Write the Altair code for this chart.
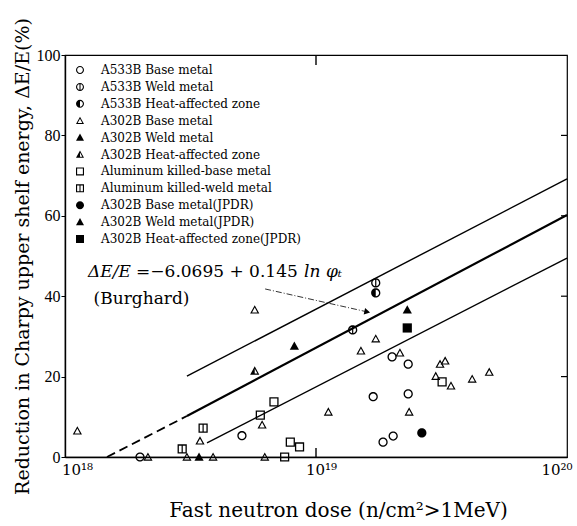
import altair as alt
import pandas as pd

# ---------------- data ----------------
series_names = [
    "A533B Base metal", "A533B Weld metal", "A533B Heat-affected zone",
    "A302B Base metal", "A302B Weld metal", "A302B Heat-affected zone",
    "Aluminum killed-base metal", "Aluminum killed-weld metal",
    "A302B Base metal(JPDR)", "A302B Weld metal(JPDR)", "A302B Heat-affected zone(JPDR)",
]

a533_base_x = [1.99e18, 5.07e18, 1.69e19, 2.01e19, 2.33e19, 2.33e19, 1.85e19, 2.03e19]
a533_base_y = [0.0, 5.3, 15.0, 24.9, 23.1, 15.7, 3.7, 5.2]
a533_weld_x = [1.73e19, 1.40e19]
a533_weld_y = [43.3, 31.6]
a533_haz_x = [1.73e19]
a533_haz_y = [40.8]
a302_base_x = [1.12e18, 5.7e18, 2.14e18, 3.06e18, 3.89e18, 6.25e18, 3.45e18, 6.1e18,
               1.73e19, 1.51e19, 2.16e19, 3.12e19, 3.27e19, 3.0e19, 3.45e19, 4.19e19,
               4.9e19, 1.12e19, 2.35e19]
a302_base_y = [6.5, 36.6, 0.0, 0.0, 0.0, 0.0, 4.0, 8.0,
               29.4, 26.4, 25.9, 23.1, 23.9, 20.1, 17.7, 19.4,
               21.1, 11.2, 11.2]
a302_weld_x = [8.2e18, 3.42e18]
a302_weld_y = [27.6, 0.0]
a302_haz_x = [5.7e18]
a302_haz_y = [21.4]
al_base_x = [6.8e18, 6.0e18, 7.9e18, 8.6e18, 7.5e18, 3.18e19]
al_base_y = [13.7, 10.4, 3.7, 2.5, 0.0, 18.7]
al_weld_x = [3.55e18, 2.93e18]
al_weld_y = [7.2, 2.0]
jpdr_base_x = [2.64e19]
jpdr_base_y = [6.0]
jpdr_weld_x = [2.31e19]
jpdr_weld_y = [36.6]
jpdr_haz_x = [2.31e19]
jpdr_haz_y = [32.1]

# regression band lines
center_solid_x = [3.06e18, 1e20]
center_solid_y = [10.2, 60.2]
center_dash_x = [1.47e18, 3.06e18]
center_dash_y = [0.0, 10.2]
upper_x = [3.06e18, 1e20]
upper_y = [20.1, 69.2]
lower_x = [3.68e18, 1e20]
lower_y = [3.5, 49.5]

# annotation
eq_x = [1.236e18]
eq_y = [46.0]
burg_x = [1.30e18]
burg_y = [39.4]
leader_x = [6.27e18, 1.6e19]
leader_y = [41.8, 36.1]

x_ticks = [1e18, 1e19, 1e20]
y_ticks = [0, 20, 40, 60, 80, 100]
right_ticks = [20, 40, 60, 80]
top_ticks = [1e19]

# ---------------- symbol shapes (filled paths) ----------------
RING = "M1,0A1,1,0,1,1,-1,0A1,1,0,1,1,1,0Z M0.72,0A0.72,0.72,0,1,0,-0.72,0A0.72,0.72,0,1,0,0.72,0Z"
VBAR = "M-0.13,-0.76L0.13,-0.76L0.13,0.76L-0.13,0.76Z"
HALF = "M0,-0.72A0.72,0.72,0,0,0,0,0.72Z"
DISK = "M1,0A1,1,0,1,1,-1,0A1,1,0,1,1,1,0Z"
TRI_OUT = "M0,-1L1,0.8L-1,0.8Z"
TRI_IN = "M0,-0.49L-0.58,0.55L0.58,0.55Z"
TRI_HALF = "M0,-0.49L-0.58,0.55L0,0.55Z"
SQ_OUT = "M-1,-1L1,-1L1,1L-1,1Z"
SQ_IN = "M-0.72,-0.72L-0.72,0.72L0.72,0.72L0.72,-0.72Z"

shape_range = [
    RING,
    RING + " " + VBAR,
    RING + " " + HALF,
    TRI_OUT + " " + TRI_IN,
    TRI_OUT,
    TRI_OUT + " " + TRI_IN + " " + TRI_HALF,
    SQ_OUT + " " + SQ_IN,
    SQ_OUT + " " + SQ_IN + " " + VBAR,
    DISK,
    TRI_OUT,
    SQ_OUT,
]

series_xy = [
    (a533_base_x, a533_base_y), (a533_weld_x, a533_weld_y), (a533_haz_x, a533_haz_y),
    (a302_base_x, a302_base_y), (a302_weld_x, a302_weld_y), (a302_haz_x, a302_haz_y),
    (al_base_x, al_base_y), (al_weld_x, al_weld_y),
    (jpdr_base_x, jpdr_base_y), (jpdr_weld_x, jpdr_weld_y), (jpdr_haz_x, jpdr_haz_y),
]
rows = []
for name, (xs, ys) in zip(series_names, series_xy):
    for xv, yv in zip(xs, ys):
        rows.append({"series": name, "dose": xv, "dE": yv})
pts = pd.DataFrame(rows)

xscale = alt.Scale(type="log", domain=[1e18, 1e20], nice=False)
yscale = alt.Scale(domain=[0, 100], nice=False, zero=False)

X = alt.X(
    "dose:Q", scale=xscale,
    axis=alt.Axis(
        values=x_ticks,
        labelExpr="datum.value == 1e18 ? '10¹⁸' : (datum.value == 1e19 ? '10¹⁹' : '10²⁰')",
        ticks=False, labelFontSize=15, labelPadding=5, labelFont="DejaVu Serif",
        labelOffset=alt.condition("datum.value == 1e18", alt.value(12), alt.value(5)),
        labelAlign=alt.condition("datum.value == 1e20", alt.value("right"), alt.value("center")),
        labelFlush=False,
        title="Fast neutron dose (n/cm²>1MeV)",
        titleFontSize=20, titleX=273, titleY=53, titleBaseline="middle", titleAlign="center",
        domainWidth=1.4,
    ),
)
Y = alt.Y(
    "dE:Q", scale=yscale,
    axis=alt.Axis(
        values=y_ticks, tickSize=4, labelPadding=1, labelFontSize=16,
        labelBaseline="middle",
        title="Reduction in Charpy upper shelf energy, ΔE/E(%)",
        titleFontSize=19, titleX=-43, titleY=201, titleBaseline="middle", titleAlign="center",
        domainWidth=1.4,
    ),
)

points = alt.Chart(pts).mark_point(
    filled=True, color="black", opacity=1, strokeWidth=0, size=85
).encode(
    x=X, y=Y,
    shape=alt.Shape(
        "series:N",
        scale=alt.Scale(domain=series_names, range=shape_range),
        legend=alt.Legend(
            orient="none", legendX=9, legendY=9, title=None,
            labelFont="DejaVu Serif", labelFontSize=12, labelColor="black", labelLimit=400,
            symbolSize=64, symbolFillColor="black", symbolStrokeWidth=0,
            symbolOpacity=1, rowPadding=4.9, labelOffset=15, padding=0,
        ),
    ),
)


def seg(xs, ys, **kw):
    df = pd.DataFrame({"dose": xs, "dE": ys})
    return alt.Chart(df).mark_line(color="black", **kw).encode(
        x=alt.X("dose:Q", scale=xscale), y=alt.Y("dE:Q", scale=yscale)
    )


lines = (
    seg(center_solid_x, center_solid_y, strokeWidth=2.2)
    + seg(center_dash_x, center_dash_y, strokeWidth=1.8, strokeDash=[9, 5])
    + seg(upper_x, upper_y, strokeWidth=1.4)
    + seg(lower_x, lower_y, strokeWidth=1.4)
    + seg(leader_x, leader_y, strokeWidth=0.8, strokeDash=[6, 2, 1, 2])
)

arrow = alt.Chart(pd.DataFrame({"dose": leader_x[1:], "dE": leader_y[1:]})).mark_point(
    shape="triangle-right", filled=True, color="black", opacity=1, size=45, angle=12
).encode(x=alt.X("dose:Q", scale=xscale), y=alt.Y("dE:Q", scale=yscale))

eq_df = pd.DataFrame({"dose": eq_x, "dE": eq_y})
txt_kw = dict(align="left", baseline="middle", font="DejaVu Serif", fontSize=17, color="black")
eq1 = alt.Chart(eq_df).mark_text(text="ΔE/E", fontStyle="italic", **txt_kw).encode(
    x=alt.X("dose:Q", scale=xscale), y=alt.Y("dE:Q", scale=yscale))
eq2 = alt.Chart(eq_df).mark_text(text="=−6.0695 + 0.145", dx=48, **txt_kw).encode(
    x=alt.X("dose:Q", scale=xscale), y=alt.Y("dE:Q", scale=yscale))
eq3 = alt.Chart(eq_df).mark_text(text="ln φₜ", dx=216, fontStyle="italic", **txt_kw).encode(
    x=alt.X("dose:Q", scale=xscale), y=alt.Y("dE:Q", scale=yscale))
burg = alt.Chart(pd.DataFrame({"dose": burg_x, "dE": burg_y})).mark_text(
    text="(Burghard)", **txt_kw).encode(
    x=alt.X("dose:Q", scale=xscale), y=alt.Y("dE:Q", scale=yscale))

rticks = alt.Chart(pd.DataFrame({"dE": right_ticks})).mark_rule(color="black", strokeWidth=1.2).encode(
    x=alt.value(496), x2=alt.value(502), y=alt.Y("dE:Q", scale=yscale))
tticks = alt.Chart(pd.DataFrame({"dose": top_ticks})).mark_rule(color="black", strokeWidth=1.4).encode(
    x=alt.X("dose:Q", scale=xscale), y=alt.value(0), y2=alt.value(10))
bticks = alt.Chart(pd.DataFrame({"dose": top_ticks})).mark_rule(color="black", strokeWidth=1.4).encode(
    x=alt.X("dose:Q", scale=xscale), y=alt.value(393), y2=alt.value(402))

chart = alt.layer(
    lines, arrow, rticks, tticks, bticks, eq1, eq2, eq3, burg, points
).properties(
    width=502, height=402,
    padding={"left": 65, "top": 55, "right": 10, "bottom": 69},
    autosize=alt.AutoSizeParams(type="none"),
).configure_view(
    stroke="black", strokeWidth=1.2
).configure_axis(
    grid=False, domainColor="black", tickColor="black", labelColor="black",
    titleColor="black", labelFont="Liberation Serif", titleFont="DejaVu Serif",
    titleFontWeight="normal",
)

chart.save("out.html", embed_options={"renderer": "svg", "actions": False})
